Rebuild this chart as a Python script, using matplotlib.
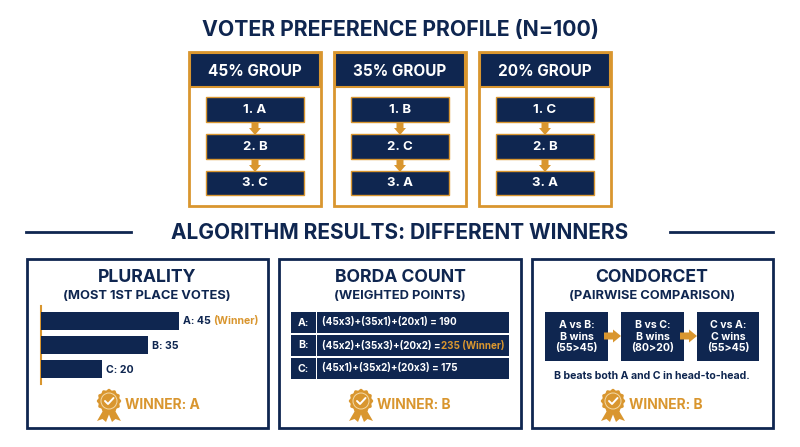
import numpy as np
import matplotlib
matplotlib.use("Agg")
import matplotlib.pyplot as plt
from matplotlib.patches import Rectangle, Circle, Polygon

navy = "#0f2650"
gold = "#d9962f"
plt.rcParams['font.family'] = ['Inter', 'DejaVu Sans']

group_labels = ["45% GROUP", "35% GROUP", "20% GROUP"]
group_rankings = [["1. A", "2. B", "3. C"], ["1. B", "2. C", "3. A"], ["1. C", "2. B", "3. A"]]
plurality_names = ["A", "B", "C"]
plurality_votes = [45, 35, 20]
borda_names = ["A:", "B:", "C:"]
borda_sums = ["(45x3)+(35x1)+(20x1) = 190", "(45x2)+(35x3)+(20x2) =", "(45x1)+(35x2)+(20x3) = 175"]
pairwise_text = ["A vs B:\nB wins\n(55>45)", "B vs C:\nB wins\n(80>20)", "C vs A:\nC wins\n(55>45)"]

fig = plt.figure(figsize=(8, 4.47), dpi=100)
ax = fig.add_axes([0, 0, 1, 1])
ax.set_xlim(0, 800)
ax.set_ylim(447, 0)
ax.axis('off')


def box(x0, y0, x1, y1, fc=navy, ec="none", lw=0, z=2):
    ax.add_patch(Rectangle((x0, y0), x1 - x0, y1 - y0, facecolor=fc, edgecolor=ec, linewidth=lw, zorder=z))


def txt(x, y, s, size, color=navy, ha='center', weight='bold', **kw):
    ax.text(x, y, s, fontsize=size, color=color, ha=ha, va='center', fontweight=weight, zorder=5, **kw)


def down_arrow(x, y0, y1):
    ax.add_patch(Polygon([(x - 3.5, y0), (x + 3.5, y0), (x + 3.5, y1 - 7), (x + 6, y1 - 7), (x, y1),
                          (x - 6, y1 - 7), (x - 3.5, y1 - 7)], facecolor=gold, edgecolor="none", zorder=4))


def right_arrow(x0, x1, y):
    ax.add_patch(Polygon([(x0, y - 3.5), (x1 - 8, y - 3.5), (x1 - 8, y - 6.5), (x1, y), (x1 - 8, y + 6.5),
                          (x1 - 8, y + 3.5), (x0, y + 3.5)], facecolor=gold, edgecolor="none", zorder=4))


def medal(cx, cy, label):
    # ribbon tails, then scalloped badge
    ax.add_patch(Polygon([(cx - 5, cy + 8), (cx - 12, cy + 20), (cx - 6.5, cy + 18), (cx - 3, cy + 21), (cx + 1, cy + 11)], facecolor=gold, zorder=3))
    ax.add_patch(Polygon([(cx + 5, cy + 8), (cx + 12, cy + 20), (cx + 6.5, cy + 18), (cx + 3, cy + 21), (cx - 1, cy + 11)], facecolor=gold, zorder=3))
    ang = np.linspace(0, 2 * np.pi, 180)
    rad = 11.5 + 0.7 * np.cos(12 * ang)
    ax.add_patch(Polygon(np.column_stack([cx + rad * np.cos(ang), cy + rad * np.sin(ang)]), facecolor=gold, zorder=4))
    ax.add_patch(Circle((cx, cy), 8.5, facecolor="#f3d9a6", edgecolor="none", zorder=4))
    ax.add_patch(Circle((cx, cy), 7.5, facecolor=gold, edgecolor="none", zorder=4))
    ax.plot([cx - 4, cx - 1, cx + 4.5], [cy, cy + 3, cy - 3], color="white", lw=1.4, zorder=5, solid_capstyle='round')
    txt(cx + 16, cy + 4, label, 10, color=gold, ha='left')


# top section
txt(400, 30, "VOTER PREFERENCE PROFILE (N=100)", 15.3)
for i, x0 in enumerate([189, 334, 479]):
    box(x0, 52, x0 + 132, 206, fc="white", ec=gold, lw=2, z=1)
    box(x0 + 1, 53, x0 + 131, 87, ec=gold, lw=1.5)
    txt(x0 + 66, 71, group_labels[i], 11, color="white")
    for j, (y0, y1) in enumerate([(97, 122), (134, 159), (171, 195)]):
        box(x0 + 17, y0, x0 + 115, y1, ec=gold, lw=1)
        txt(x0 + 66, (y0 + y1) / 2 + 0.5, group_rankings[i][j], 9.5, color="white")
        if j < 2:
            down_arrow(x0 + 66, y1, y1 + 13)

# divider
txt(400, 233, "ALGORITHM RESULTS: DIFFERENT WINNERS", 15)
ax.plot([26, 131], [232, 232], color=navy, lw=2)
ax.plot([670, 773], [232, 232], color=navy, lw=2)

# panels
for x0, x1, cx, head, sub in [(27, 268, 147, "PLURALITY", "(MOST 1ST PLACE VOTES)"),
                              (279, 521, 400, "BORDA COUNT", "(WEIGHTED POINTS)"),
                              (532, 773, 652, "CONDORCET", "(PAIRWISE COMPARISON)")]:
    box(x0, 259, x1, 428, fc="white", ec=navy, lw=2, z=1)
    txt(cx, 278, head, 12.7)
    txt(cx, 296, sub, 9.3)

# plurality bars in their own axes
bar_ax = fig.add_axes([41 / 800, 1 - 384 / 447, 200 / 800, 78 / 447])
bar_ax.barh(plurality_names, plurality_votes, height=0.75, color=navy)
bar_ax.set_xlim(0, 200 / 3.07)
bar_ax.set_ylim(2.64, -0.64)
bar_ax.axis('off')
bar_ax.patch.set_alpha(0)
ax.plot([41, 41], [306, 384], color=gold, lw=1.5, zorder=6)
for name, v, y in zip(plurality_names, plurality_votes, [321, 346, 370]):
    txt(41 + v * 3.07 + 4, y, f"{name}: {v}", 7.6, ha='left')
txt(213, 321, "(Winner)", 7.6, color=gold, ha='left')
medal(109, 401, "WINNER: A")

# borda rows
for i, (y0, y1) in enumerate([(312, 333), (335, 356), (358, 379)]):
    box(291, y0, 316, y1)
    box(317, y0, 509, y1)
    txt(303.5, (y0 + y1) / 2, borda_names[i], 7.6, color="white")
    txt(322, (y0 + y1) / 2, borda_sums[i], 7.1, color="white", ha='left')
txt(441, 345.5, "235 (Winner)", 7.1, color=gold, ha='left')
medal(361, 401, "WINNER: B")

# condorcet boxes
for i, (x0, x1) in enumerate([(545, 608), (621, 684), (697, 759)]):
    box(x0, 312, x1, 361)
    txt((x0 + x1) / 2, 336.5, pairwise_text[i], 7.6, color="white", linespacing=1.25)
right_arrow(604, 621, 336)
right_arrow(680, 697, 336)
txt(652, 376, "B beats both A and C in head-to-head.", 7.6)
medal(613, 401, "WINNER: B")

fig.savefig("out.png", dpi=100, facecolor="white")
